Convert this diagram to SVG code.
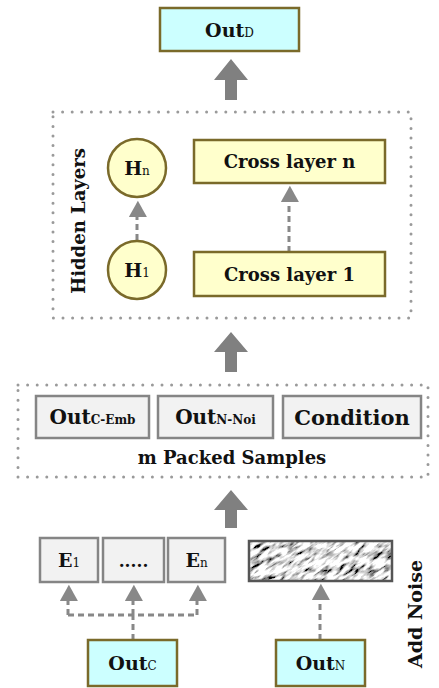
<svg xmlns="http://www.w3.org/2000/svg" width="439" height="688" viewBox="0 0 439 688">
<style>
.t{font-family:"DejaVu Serif","Liberation Serif",serif;font-weight:bold;fill:#111;}
.s{font-weight:normal;}
.cyan{fill:#ccffff;stroke:#7a6a2a;stroke-width:2.5;}
.yel{fill:#ffffcc;stroke:#7a6a2a;stroke-width:2.5;}
.gry{fill:#f2f2f2;stroke:#858585;stroke-width:2.5;}
.dot{fill:none;stroke:#9a9a9a;stroke-width:3;stroke-linecap:round;stroke-dasharray:0 9.6;}
.dash{fill:none;stroke:#888;stroke-width:3;stroke-dasharray:6 4;}
.big{fill:#808080;}
</style>
<defs>
<marker id="ah" markerWidth="20" markerHeight="18" refX="0" refY="9" orient="auto" markerUnits="userSpaceOnUse" viewBox="0 0 18 20">
<path d="M0,0 L18,10 L0,20 Z" fill="#888"/>
</marker>
<filter id="noise" x="0" y="0" width="1" height="1" filterUnits="objectBoundingBox">
<feTurbulence type="fractalNoise" baseFrequency="0.08 0.26" numOctaves="3" seed="7"/>
<feColorMatrix type="matrix" values="3.4 0 0 0 -0.95  3.4 0 0 0 -0.95  3.4 0 0 0 -0.95  0 0 0 0 1"/>
</filter>
<clipPath id="nclip"><rect x="249" y="541" width="143" height="40"/></clipPath>
</defs>

<g id="connectors">
<path class="big" d="M231,59 L248,80 L237,80 L237,100 L225,100 L225,80 L214,80 Z"/>
<path class="big" d="M231,332 L248,352 L237,352 L237,372 L225,372 L225,352 L214,352 Z"/>
<path class="big" d="M231,490 L248,510 L237,510 L237,528 L225,528 L225,510 L214,510 Z"/>
<path class="dash" d="M137,240 V217" marker-end="url(#ah)"/>
<path class="dash" d="M289,252 V202" marker-end="url(#ah)"/>
<path class="dash" d="M133,640 V615"/>
<path class="dash" d="M68,615 H197"/>
<path class="dash" d="M68,615 V601" marker-end="url(#ah)"/>
<path class="dash" d="M133,615 V601" marker-end="url(#ah)"/>
<path class="dash" d="M197,615 V601" marker-end="url(#ah)"/>
<path class="dash" d="M320,640 V600" marker-end="url(#ah)"/>
</g>

<g id="outD">
<rect class="cyan" x="160" y="8" width="139" height="43"/>
<text class="t" x="229.5" y="36.5" text-anchor="middle" font-size="19">Out<tspan class="s" font-size="12">D</tspan></text>
</g>

<g id="hidden-layers">
<rect class="dot" x="53" y="112" width="358" height="206"/>
<text class="t" font-size="18" text-anchor="middle" transform="translate(85,221) rotate(-90)">Hidden Layers</text>
</g>

<g id="Hn">
<circle class="yel" cx="137" cy="168" r="29"/>
<text class="t" x="137" y="175" text-anchor="middle" font-size="19">H<tspan class="s" font-size="12">n</tspan></text>
</g>
<g id="H1">
<circle class="yel" cx="137" cy="270" r="29"/>
<text class="t" x="137" y="277" text-anchor="middle" font-size="19">H<tspan class="s" font-size="12">1</tspan></text>
</g>
<g id="crossN">
<rect class="yel" x="194" y="140" width="191" height="43"/>
<text class="t" x="289.5" y="168" text-anchor="middle" font-size="18">Cross layer n</text>
</g>
<g id="crossA">
<rect class="yel" x="194" y="252" width="191" height="44"/>
<text class="t" x="289.5" y="280.5" text-anchor="middle" font-size="18">Cross layer 1</text>
</g>

<g id="packed">
<rect class="dot" x="18" y="385" width="410" height="92"/>
<text class="t" x="232" y="464" text-anchor="middle" font-size="18">m Packed Samples</text>
</g>
<g id="outCEmb">
<rect class="gry" x="36" y="396" width="113" height="42"/>
<text class="t" x="92.5" y="424" text-anchor="middle" font-size="20">Out<tspan font-size="12">C-Emb</tspan></text>
</g>
<g id="outNNoi">
<rect class="gry" x="158" y="396" width="115" height="42"/>
<text class="t" x="215.5" y="424" text-anchor="middle" font-size="20">Out<tspan font-size="12">N-Noi</tspan></text>
</g>
<g id="condition">
<rect class="gry" x="283" y="396" width="138" height="42"/>
<text class="t" x="352" y="424.5" text-anchor="middle" font-size="21">Condition</text>
</g>

<g id="E1">
<rect class="gry" x="40" y="538" width="58" height="44"/>
<text class="t" x="69" y="567" text-anchor="middle" font-size="19">E<tspan class="s" font-size="12">1</tspan></text>
</g>
<g id="Edots">
<rect class="gry" x="103" y="538" width="61" height="44"/>
<text class="t" x="133.5" y="567" text-anchor="middle" font-size="17">.....</text>
</g>
<g id="En">
<rect class="gry" x="168" y="538" width="57" height="44"/>
<text class="t" x="196.5" y="567" text-anchor="middle" font-size="19">E<tspan class="s" font-size="12">n</tspan></text>
</g>

<g id="noise">
<g clip-path="url(#nclip)">
<rect x="200" y="440" width="240" height="240" filter="url(#noise)" transform="rotate(-35 320 561)"/>
</g>
<rect x="249" y="541" width="143" height="40" fill="none" stroke="#555" stroke-width="2.5"/>
<text class="t" font-size="19" text-anchor="middle" transform="translate(422,614) rotate(-90)">Add Noise</text>
</g>

<g id="outC">
<rect class="cyan" x="88" y="640" width="89" height="46"/>
<text class="t" x="132.5" y="670" text-anchor="middle" font-size="19">Out<tspan class="s" font-size="12">C</tspan></text>
</g>
<g id="outN">
<rect class="cyan" x="276" y="640" width="89" height="46"/>
<text class="t" x="320.5" y="670" text-anchor="middle" font-size="19">Out<tspan class="s" font-size="12">N</tspan></text>
</g>
</svg>
